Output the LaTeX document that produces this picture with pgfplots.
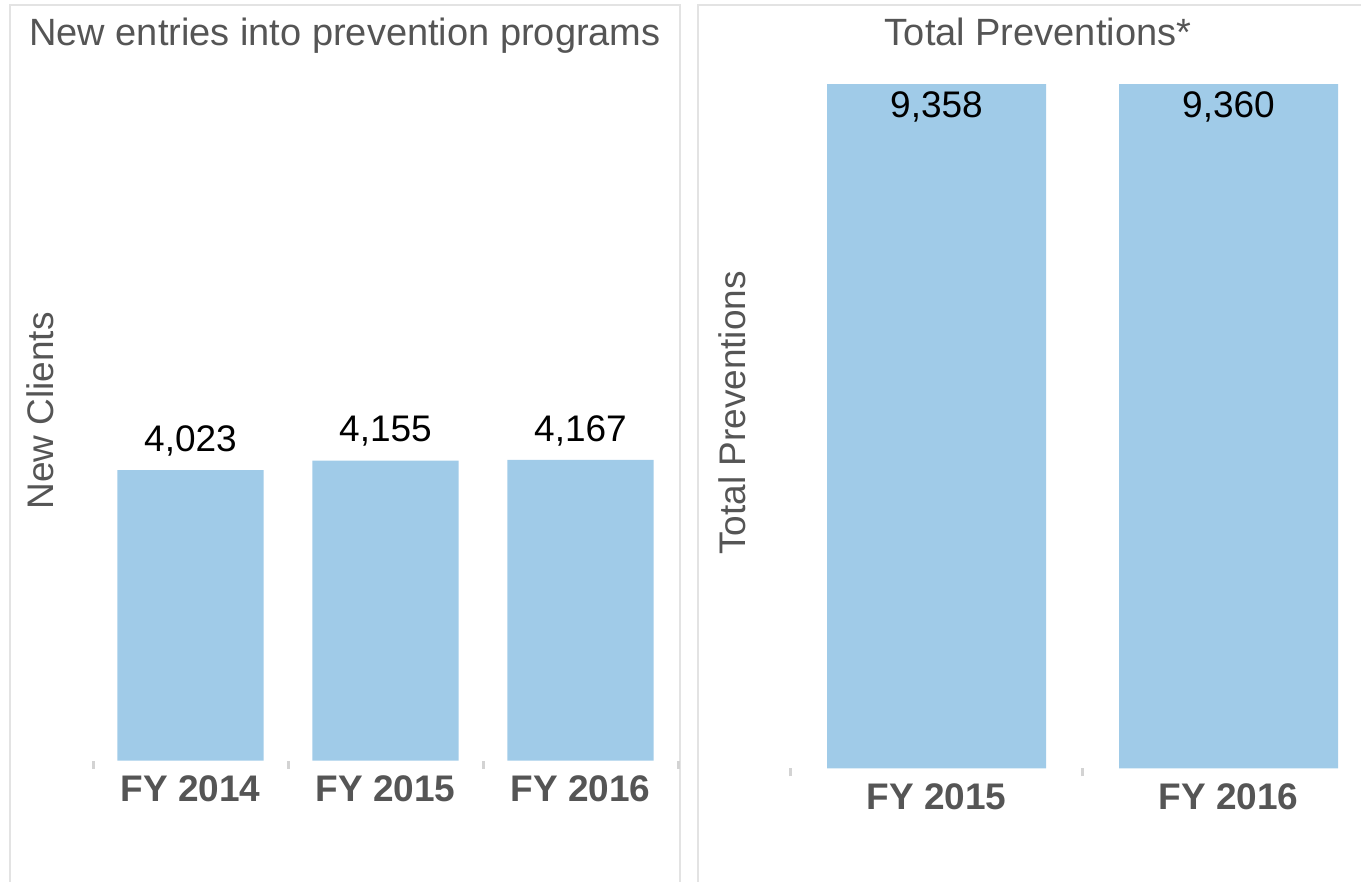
\documentclass[border=0pt]{standalone}
\usepackage{pgfplots}
\pgfplotsset{compat=1.18}
\usepackage{fontspec}
\setmainfont{Liberation Sans}
\definecolor{barblue}{HTML}{A0CBE8}
\definecolor{txtgray}{HTML}{555555}
\definecolor{bordergray}{HTML}{E3E3E3}
\definecolor{tickgray}{HTML}{D3D3D3}
\pgfplotsset{
  panel/.style={
    scale only axis, anchor=south west, clip=false,
    ymin=0, ymax=9360,
    axis line style={draw=none},
    ytick=\empty,
    xtick pos=bottom,
    major tick length=0pt,
    minor tick length=4pt,
    tick align=outside,
    minor tick style={tickgray, line width=1.5pt},
    xticklabel style={font=\fontsize{18.5}{22}\selectfont\bfseries, text=txtgray, yshift=-4pt},
    ybar, bar width=0.75,
    /pgf/number format/assume math mode=true,
    /pgf/number format/1000 sep={,},
    nodes near coords,
    every node near coord/.append style={font=\fontsize{18.5}{22}\selectfont, text=black, anchor=base, inner sep=0pt},
  }
}
\begin{document}
\begin{tikzpicture}
\useasboundingbox (0,0) rectangle (680.5pt,441pt);
% panel borders
\draw[bordergray, line width=1pt] (5pt,-5pt) -- (5pt,438.5pt) -- (340pt,438.5pt) -- (340pt,-5pt);
\draw[bordergray, line width=1pt] (349pt,-5pt) -- (349pt,438.5pt) -- (700pt,438.5pt);

\begin{axis}[panel, at={(46.5pt,60.65pt)}, width=292.5pt, height=337.9pt,
  xmin=-0.5, xmax=2.5, xtick={0,1,2}, xticklabels={FY 2014,FY 2015,FY 2016},
  minor xtick={-0.5,0.5,1.5,2.5},
  every node near coord/.append style={yshift=9.35pt}]
\addplot[fill=barblue, draw=none] coordinates {(0,4023) (1,4155) (2,4167)};
\end{axis}

\begin{axis}[panel, at={(395.25pt,56.85pt)}, width=292pt, height=342.1pt,
  xmin=-0.5, xmax=1.5, xtick={0,1}, xticklabels={FY 2015,FY 2016},
  minor xtick={-0.5,0.5,1.5},
  every node near coord/.append style={yshift=-16.6pt}]
\addplot[fill=barblue, draw=none] coordinates {(0,9358) (1,9360)};
\end{axis}

\node[font=\fontsize{19}{23}\selectfont, text=txtgray, anchor=base] at (172.5pt,418pt) {New entries into prevention programs};
\node[font=\fontsize{19}{23}\selectfont, text=txtgray, anchor=base] at (519pt,418pt) {Total Preventions*};
\node[font=\fontsize{18.5}{22}\selectfont, text=txtgray, anchor=base, rotate=90] at (27pt,235.5pt) {New Clients};
\node[font=\fontsize{18.5}{22}\selectfont, text=txtgray, anchor=base, rotate=90] at (372.5pt,234.5pt) {Total Preventions};
\end{tikzpicture}
\end{document}
